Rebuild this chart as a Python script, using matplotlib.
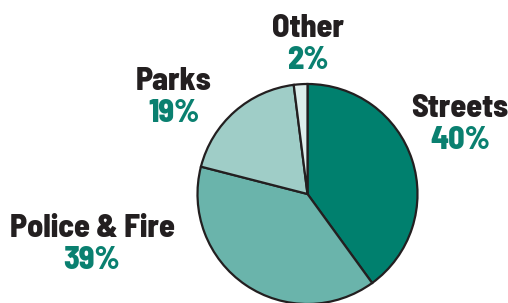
import matplotlib.pyplot as plt

categories = ['Streets', 'Police & Fire', 'Parks', 'Other']
shares = [40, 39, 19, 2]

colors = ['#00806e', '#6ab4ab', '#9fcdc7', '#ddeeec']
# label anchor (x, baseline y) in pixels from top-left
label_pos = [(460, 117), (92, 237), (174, 90), (308, 37)]

W, H = 508, 303
fig = plt.figure(figsize=(W / 100, H / 100), dpi=100)
ax = fig.add_axes([0, 0, 1, 1])

ax.pie(shares, colors=colors, startangle=90, counterclock=False,
       center=(307.5, H - 194), radius=110, frame=True,
       wedgeprops=dict(edgecolor='#231f20', linewidth=1.6))
ax.set_xlim(0, W)
ax.set_ylim(0, H)
ax.set_aspect('equal')
ax.axis('off')

font = ['Barlow Semi Condensed', 'DejaVu Sans']
for name, val, (x, y) in zip(categories, shares, label_pos):
    ax.text(x, H - y, name, ha='center', va='baseline', fontsize=23,
            fontweight=800, color='#231f20', family=font)
    ax.text(x, H - y - 32, f'{val}%', ha='center', va='baseline', fontsize=23,
            fontweight=800, color='#0a8070', family=font)

fig.savefig('out.png', dpi=100)
